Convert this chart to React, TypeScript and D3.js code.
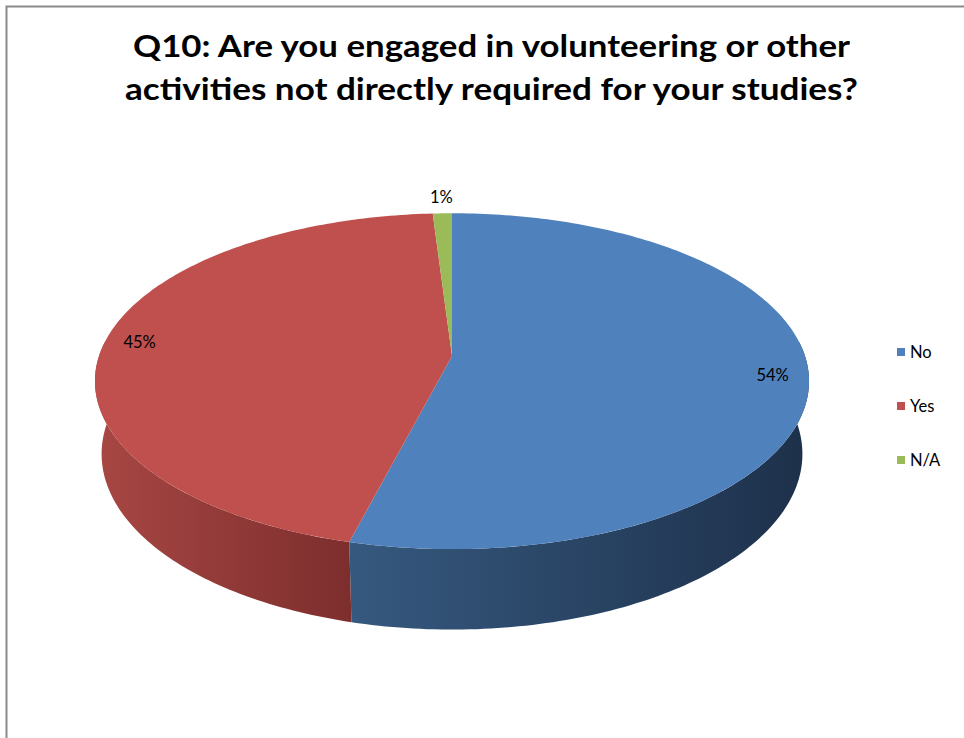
import React from "react";
import * as d3 from "d3";

// Survey answers and their shares (%)
const categories = ["No", "Yes", "N/A"];
const values = [54, 45, 1];
const topColors = ["#4F81BD", "#C0504D", "#9BBB59"];
const sideLight = ["#36597F", "#A84744", "#7E9A45"];
const sideDark = ["#1D304A", "#7C2E2D", "#5F7534"];

const titleLines = [
  "Q10: Are you engaged in volunteering or other",
  "activities not directly required for your studies?",
];
const titleWidths = [717, 733];

const W = 964;
const H = 738;

// 3D pie geometry: a disk seen from above with perspective
const cx = 452;
const cy = 356;
const R = 353; // projected radius at the disk centre's depth
const tilt = Math.asin(0.465);
const camDist = 5.9; // camera distance, in disk radii
const depth = 0.235; // disk thickness, in disk radii

function project(theta: number, r: number, y: number): [number, number] {
  // theta clockwise from the back of the disk (top of screen)
  const x = r * Math.sin(theta);
  const z = -r * Math.cos(theta);
  const yp = y * Math.cos(tilt) - z * Math.sin(tilt);
  const dp = z * Math.cos(tilt) + y * Math.sin(tilt);
  const s = camDist / (camDist - dp);
  return [cx + R * x * s, cy - R * yp * s];
}

function arcPoints(a0: number, a1: number, y: number): [number, number][] {
  const n = Math.max(2, Math.ceil((Math.abs(a1 - a0) * 180) / Math.PI));
  const pts: [number, number][] = [];
  for (let i = 0; i <= n; i++) pts.push(project(a0 + ((a1 - a0) * i) / n, 1, y));
  return pts;
}

const toPath = (pts: [number, number][]) =>
  "M" + pts.map((p) => p[0].toFixed(2) + "," + p[1].toFixed(2)).join("L") + "Z";

export default function App() {
  const arcs = d3
    .pie<number>()
    .sort(null)
    .startAngle(0)
    .endAngle(2 * Math.PI)(values);

  const frontA = (85 * Math.PI) / 180;
  const frontB = (275 * Math.PI) / 180;

  const sides = arcs
    .map((a, i) => {
      const s0 = Math.max(a.startAngle, frontA);
      const s1 = Math.min(a.endAngle, frontB);
      if (s1 <= s0) return null;
      const top = arcPoints(s0, s1, 0);
      const bottom = arcPoints(s1, s0, -depth);
      const pts = top.concat(bottom);
      const xs = pts.map((p) => p[0]);
      return { i, d: toPath(pts), x0: d3.min(xs)!, x1: d3.max(xs)! };
    })
    .filter((s): s is { i: number; d: string; x0: number; x1: number } => s !== null);

  const hub = project(0, 0, 0);
  const tops = arcs.map((a, i) => ({
    i,
    d: toPath([hub, ...arcPoints(a.startAngle, a.endAngle, 0)]),
  }));

  const labels = arcs.map((a, i) => {
    const mid = (a.startAngle + a.endAngle) / 2;
    const k = values[i] < 5 ? 1.13 : 0.9;
    const [x, y] = project(mid, k, 0);
    return { x, y, text: `${values[i]}%` };
  });

  const legendY = d3
    .scalePoint<string>()
    .domain(categories)
    .range([352, 460]);

  const font = "Lato, 'Open Sans', sans-serif";

  return (
    <svg
      width={W}
      height={H}
      style={{ position: "absolute", left: 0, top: 0, background: "#fff" }}
    >
      <defs>
        {sides.map((s) => (
          <linearGradient
            key={s.i}
            id={`side-${s.i}`}
            gradientUnits="userSpaceOnUse"
            x1={s.x0}
            x2={s.x1}
            y1={0}
            y2={0}
          >
            <stop offset="0" stopColor={sideLight[s.i]} />
            <stop offset="1" stopColor={sideDark[s.i]} />
          </linearGradient>
        ))}
      </defs>

      <rect x={0} y={0} width={W} height={H} fill="#fff" />
      <path d={`M6.5,${H}V6.5H${W}`} fill="none" stroke="#8a8a8a" strokeWidth={2} />

      {titleLines.map((t, i) => (
        <text
          key={i}
          x={491.5}
          y={57 + i * 43}
          textAnchor="middle"
          textLength={titleWidths[i]}
          lengthAdjust="spacingAndGlyphs"
          fontFamily={font}
          fontWeight="bold"
          fontSize={30}
          fill="#000"
        >
          {t}
        </text>
      ))}

      {sides.map((s) => (
        <path key={s.i} d={s.d} fill={`url(#side-${s.i})`} />
      ))}
      {tops.map((t) => (
        <path key={t.i} d={t.d} fill={topColors[t.i]} />
      ))}

      {labels.map((l, i) => (
        <text
          key={i}
          x={l.x}
          y={l.y}
          dy="0.35em"
          textAnchor="middle"
          fontFamily={font}
          fontSize={16.5}
          fill="#000"
        >
          {l.text}
        </text>
      ))}

      {categories.map((c, i) => (
        <g key={c} transform={`translate(897,${legendY(c)})`}>
          <rect x={0} y={-4} width={8} height={8} fill={topColors[i]} />
          <text x={13} y={0} dy="0.35em" fontFamily={font} fontSize={16.5} fill="#000">
            {c}
          </text>
        </g>
      ))}
    </svg>
  );
}
